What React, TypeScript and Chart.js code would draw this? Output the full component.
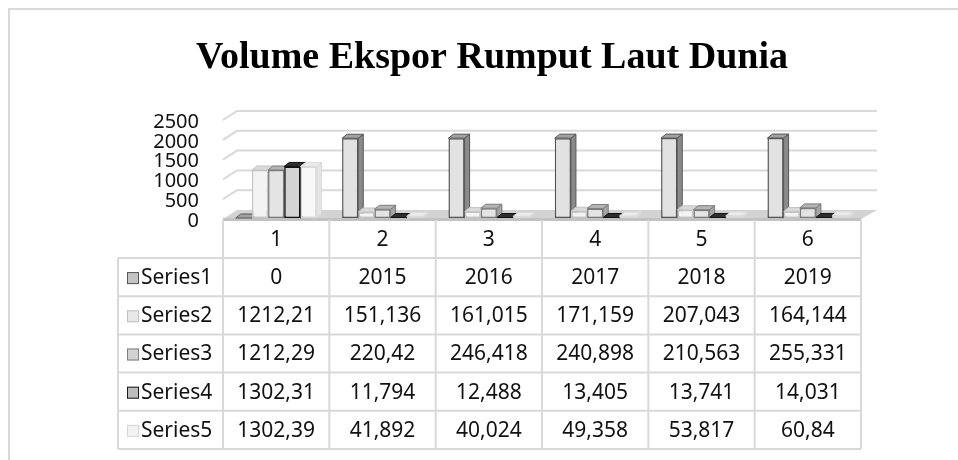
import React, { useEffect, useRef } from "react";
import { Chart, registerables } from "chart.js";

Chart.register(...registerables);

const TITLE = "Volume Ekspor Rumput Laut Dunia";
const categories = ["1", "2", "3", "4", "5", "6"];
const seriesNames = ["Series1", "Series2", "Series3", "Series4", "Series5"];
const series1 = [0, 2015, 2016, 2017, 2018, 2019];
const series2 = [1212.21, 151.136, 161.015, 171.159, 207.043, 164.144];
const series3 = [1212.29, 220.42, 246.418, 240.898, 210.563, 255.331];
const series4 = [1302.31, 11.794, 12.488, 13.405, 13.741, 14.031];
const series5 = [1302.39, 41.892, 40.024, 49.358, 53.817, 60.84];
const yTickLabels = ["0", "500", "1000", "1500", "2000", "2500"];

const allSeries = [series1, series2, series3, series4, series5];

const FRONT = ["#e2e2e2", "#f3f3f3", "#e4e4e4", "#d4d4d4", "#f8f8f8"];
const BORDER = ["#555555", "#c4c4c4", "#7c7c7c", "#111111", "#dadada"];
const SIDE = ["#8a8a8a", "#d0d0d0", "#a4a4a4", "#3a3a3a", "#e4e4e4"];
const TOPC = ["#a2a2a2", "#dadada", "#b4b4b4", "#2e2e2e", "#ebebeb"];
const KEYFILL = ["#c4c4c4", "#e8e8e8", "#d2d2d2", "#bdbdbd", "#f2f2f2"];
const KEYBORDER = ["#555555", "#bfbfbf", "#7f7f7f", "#1a1a1a", "#d6d6d6"];

const FONT = '"Noto Sans", sans-serif';
const DX = 5;
const DY = -4;
const WX = 14;
const WY = -9;
const GRID = "#d9d9d9";

const fmt = (v: number) => String(v).replace(".", ",");

const threeD = {
  id: "threeD",
  beforeDraw(chart: any) {
    const ctx = chart.ctx;
    ctx.save();
    ctx.fillStyle = "#ffffff";
    ctx.fillRect(0, 0, chart.width, chart.height);
    ctx.strokeStyle = GRID;
    ctx.lineWidth = 2;
    ctx.beginPath();
    ctx.moveTo(9, chart.height);
    ctx.lineTo(9, 9);
    ctx.lineTo(chart.width, 9);
    ctx.stroke();
    ctx.restore();
  },
  beforeDatasetsDraw(chart: any) {
    const ctx = chart.ctx;
    const a = chart.chartArea;
    const y = chart.scales.y;
    ctx.save();
    ctx.strokeStyle = GRID;
    ctx.lineWidth = 2;
    y.ticks.forEach((t: any) => {
      if (t.value === 0) return;
      const py = y.getPixelForValue(t.value) + 1;
      ctx.beginPath();
      ctx.moveTo(a.left, py);
      ctx.lineTo(a.left + WX, py + WY);
      ctx.lineTo(a.right + 16, py + WY);
      ctx.stroke();
    });
    const y0 = y.getPixelForValue(0);
    // floor
    ctx.fillStyle = "#d3d3d3";
    ctx.beginPath();
    ctx.moveTo(a.left, y0 + 1);
    ctx.lineTo(a.left + WX, y0 + 1 + WY);
    ctx.lineTo(a.right + 16, y0 + 1 + WY);
    ctx.lineTo(a.right, y0 + 1);
    ctx.closePath();
    ctx.fill();
    ctx.fillStyle = "#c2c2c2";
    ctx.fillRect(a.left, y0, a.right - a.left, 3);

    const n = chart.data.labels.length;
    for (let j = 0; j < n; j++) {
      for (let i = 0; i < chart.data.datasets.length; i++) {
        const el: any = chart.getDatasetMeta(i).data[j];
        if (!el) continue;
        const p = el.getProps(["x", "y", "base", "width"], true);
        const l = p.x - p.width / 2;
        const r = p.x + p.width / 2;
        const top = p.y;
        const base = p.base;
        ctx.lineWidth = 1;
        ctx.strokeStyle = BORDER[i];
        ctx.fillStyle = SIDE[i];
        ctx.beginPath();
        ctx.moveTo(r, top);
        ctx.lineTo(r + DX, top + DY);
        ctx.lineTo(r + DX, base + DY);
        ctx.lineTo(r, base);
        ctx.closePath();
        ctx.fill();
        ctx.stroke();
        ctx.fillStyle = TOPC[i];
        ctx.beginPath();
        ctx.moveTo(l, top);
        ctx.lineTo(l + DX, top + DY);
        ctx.lineTo(r + DX, top + DY);
        ctx.lineTo(r, top);
        ctx.closePath();
        ctx.fill();
        ctx.stroke();
      }
    }
    ctx.restore();
  },
  afterDraw(chart: any) {
    const ctx = chart.ctx;
    const a = chart.chartArea;
    const y = chart.scales.y;
    const y0 = y.getPixelForValue(0);
    ctx.save();
    ctx.fillStyle = "#000000";
    ctx.font = 'bold 38px "Liberation Serif", serif';
    ctx.textAlign = "center";
    ctx.textBaseline = "alphabetic";
    ctx.fillText(TITLE, 492, 68);

    const n = categories.length;
    const colW = (a.right - a.left) / n;
    const tableLeft = 118;
    const headTop = y0 + 2;
    const rowTop = 258;
    const rowH = 38.2;
    const nRows = seriesNames.length;
    const bottom = rowTop + rowH * nRows;
    ctx.strokeStyle = GRID;
    ctx.lineWidth = 2;
    ctx.beginPath();
    for (let c = 0; c <= n; c++) {
      const x = a.left + c * colW;
      ctx.moveTo(x, headTop);
      ctx.lineTo(x, bottom);
    }
    ctx.moveTo(tableLeft, rowTop);
    ctx.lineTo(tableLeft, bottom);
    for (let r = 0; r <= nRows; r++) {
      const yy = rowTop + r * rowH;
      ctx.moveTo(tableLeft, yy);
      ctx.lineTo(a.right, yy);
    }
    ctx.stroke();

    ctx.fillStyle = "#111111";
    ctx.font = `21px ${FONT}`;
    ctx.textBaseline = "middle";
    ctx.textAlign = "center";
    for (let c = 0; c < n; c++) {
      const cx = a.left + (c + 0.5) * colW;
      ctx.fillText(categories[c], cx, (headTop + rowTop) / 2 + 1);
    }
    for (let r = 0; r < nRows; r++) {
      const cy = rowTop + (r + 0.5) * rowH + 1;
      ctx.fillStyle = KEYFILL[r];
      ctx.fillRect(127, cy - 6, 12, 12);
      ctx.strokeStyle = KEYBORDER[r];
      ctx.lineWidth = 1;
      ctx.strokeRect(127.5, cy - 5.5, 11, 11);
      ctx.fillStyle = "#111111";
      ctx.textAlign = "left";
      ctx.fillText(seriesNames[r], 141, cy);
      ctx.textAlign = "center";
      for (let c = 0; c < n; c++) {
        const cx = a.left + (c + 0.5) * colW;
        ctx.fillText(fmt(allSeries[r][c]), cx, cy);
      }
    }
    ctx.restore();
  },
};

export default function App() {
  const ref = useRef<HTMLCanvasElement | null>(null);
  useEffect(() => {
    if (!ref.current) return;
    const chart = new Chart(ref.current, {
      type: "bar",
      data: {
        labels: categories,
        datasets: allSeries.map((d, i) => ({
          label: seriesNames[i],
          data: d,
          backgroundColor: FRONT[i],
          borderColor: BORDER[i],
          borderWidth: 1.5,
          borderSkipped: false,
          categoryPercentage: 0.76,
          barPercentage: 1,
        })),
      },
      options: {
        responsive: false,
        animation: false,
        devicePixelRatio: 1,
        layout: { padding: { top: 119, bottom: 242, left: 0, right: 97 } },
        plugins: {
          legend: { display: false },
          title: { display: false },
          tooltip: { enabled: false },
        },
        scales: {
          x: { display: false },
          y: {
            min: 0,
            max: 2500,
            ticks: {
              stepSize: 500,
              autoSkip: false,
              padding: 24,
              labelOffset: 3,
              color: "#111111",
              font: { family: FONT, size: 20, lineHeight: 1 },
              callback: (_v: any, i: number) => yTickLabels[i],
            },
            grid: { display: false, drawTicks: false },
            border: { display: false },
            afterFit: (s: any) => {
              s.width = 223;
            },
          },
        },
      },
      plugins: [threeD],
    } as any);
    return () => chart.destroy();
  }, []);
  return (
    <div style={{ position: "absolute", left: 0, top: 0, width: 958, height: 460 }}>
      <canvas ref={ref} width={958} height={460} style={{ display: "block", width: 958, height: 460 }} />
    </div>
  );
}
